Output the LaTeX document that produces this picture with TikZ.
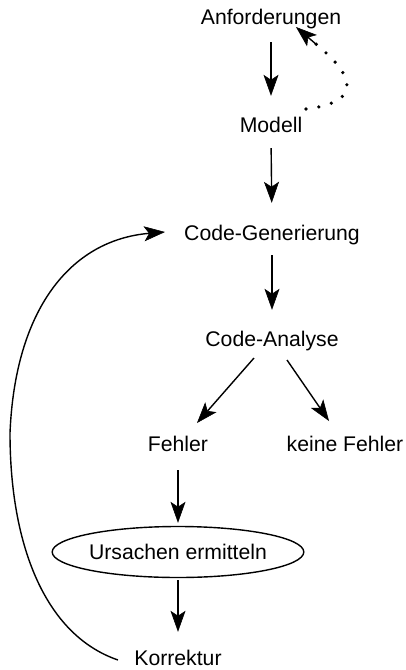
\documentclass[tikz,border=0pt]{standalone}
\usepackage{fontspec}
\setmainfont{Liberation Sans}
\usetikzlibrary{arrows.meta,shapes.geometric,calc}
\begin{document}
\begin{tikzpicture}[x=1pt,y=-1pt,
  lbl/.style={inner sep=0pt, text height=15pt, text depth=5pt, anchor=base,
    font=\fontsize{21.2pt}{25pt}\selectfont},
  oval/.style={draw, ellipse, line width=1.4pt, inner sep=0pt,
    minimum width=215pt, minimum height=51pt,
    font=\fontsize{21.2pt}{25pt}\selectfont},
  tip/.style={-{Stealth[length=21pt,width=15pt,inset=5pt,line width=0.6pt]}},
  arr/.style={tip, line width=1.4pt},
]
\useasboundingbox (0,0) rectangle (406,670);

% nodes
\node[lbl] (anf) at (271,24) {Anforderungen};
\node[lbl] (mod) at (271,132) {Modell};
\node[lbl] (gen) at (272,240) {Code-Generierung};
\node[lbl] (ana) at (272,346) {Code-Analyse};
\node[lbl] (feh) at (178,451) {Fehler};
\node[lbl] (kf)  at (345,451) {keine Fehler};
\node[oval] (urs) at (178,552) {Ursachen ermitteln};
\node[lbl] (korr) at (178,665) {Korrektur};

% main flow
\draw[arr, shorten <=13pt, shorten >=21pt] (anf.south) -- (mod.north);
\draw[arr, shorten <=11pt, shorten >=22pt] (mod.south) -- (gen.north);
\draw[arr, shorten <=10pt, shorten >=21pt] (gen.south) -- (ana.north);
\draw[arr] ($(ana.base)+(-18,12)$) -- ($(feh.base)+(19,-28)$);
\draw[arr] ($(ana.base)+(15,14)$) -- ($(kf.base)+(-16,-30)$);
\draw[arr, shorten <=14pt, shorten >=3pt] (feh.south) -- (urs.north);
\draw[arr, shorten <=2pt, shorten >=18pt] (urs.south) -- (korr.north);

% feedback loop from the correction back to code generation
\draw[arr] ($(korr.base)+(-60,-5)$)
  .. controls (45,635) and (10,545) .. (10,433)
  .. controls (15,310) and (70,240) .. ($(gen.base)+(-107,-8)$);

% dotted return from the model to the requirements
\coordinate (dstart) at ($(mod.base)+(35,-23)$);
\coordinate (dend) at ($(anf.base)+(25,3)$);
\draw[line width=3.6pt, line cap=round, dash pattern=on 0pt off 13pt]
  (dstart) .. controls (380,100) and (335,60) .. ($(dend)+(20,17)$);
\draw[arr] ($(dend)+(21,18)$) -- (dend);
\end{tikzpicture}
\end{document}
